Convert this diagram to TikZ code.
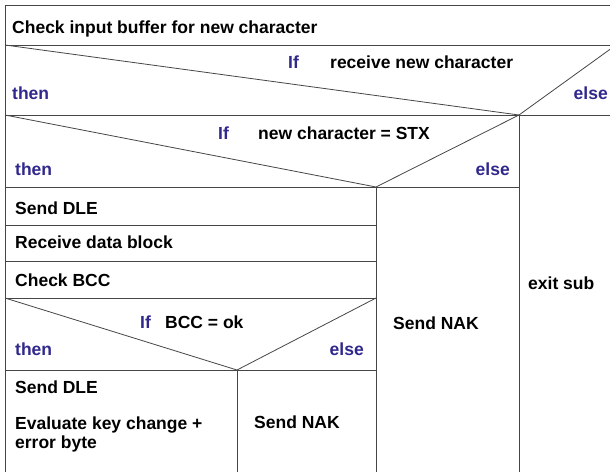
\documentclass[tikz,border=0pt]{standalone}
\usepackage{fontspec}
\setmainfont{Liberation Sans}
\definecolor{kwblue}{RGB}{48,40,140}
\definecolor{linegray}{RGB}{70,70,70}
\begin{document}
\begin{tikzpicture}[x=1pt,y=-1pt,
  ln/.style={draw=linegray,line width=0.8pt},
  txt/.style={anchor=base west,inner sep=0pt,font=\bfseries\fontsize{17.5}{20}\selectfont,text=black},
  kw/.style={txt,text=kwblue},
  kwr/.style={kw,anchor=base east}]
\useasboundingbox (0,0) rectangle (610,472);
\clip (0,0) rectangle (610,472);
\fill[white] (0,0) rectangle (610,472);
% frame lines
\draw[ln] (5,472) -- (5,5) -- (616,5);
\draw[ln] (5,45) -- (616,45);
\draw[ln] (5,115) -- (616,115);
\draw[ln] (5,187) -- (519,187);
\draw[ln] (5,225) -- (376,225);
\draw[ln] (5,261) -- (376,261);
\draw[ln] (5,298) -- (376,298);
\draw[ln] (5,370) -- (376,370);
\draw[ln] (519,115) -- (519,472);
\draw[ln] (376,187) -- (376,472);
\draw[ln] (237,370) -- (237,472);
% decision diagonals
\draw[ln] (5,45) -- (519,115) -- (616,45);
\draw[ln] (5,115) -- (376,187) -- (519,115);
\draw[ln] (5,298) -- (237,370) -- (376,298);
% texts
\node[txt] (t1) at (12,33) {Check input buffer for new character};
\node[kw] (if1) at (288,68) {If};
\node[txt] (c1) at (330,68) {receive new character};
\node[kw] (then1) at (12,99) {then};
\node[kwr] (else1) at (608,99) {else};
\node[kw] (if2) at (218,139) {If};
\node[txt] (c2) at (258,139) {new character = STX};
\node[kw] (then2) at (15,175) {then};
\node[kwr] (else2) at (510,175) {else};
\node[txt] (s1) at (15,214) {Send DLE};
\node[txt] (s2) at (15,248) {Receive data block};
\node[txt] (s3) at (15,286) {Check BCC};
\node[kw] (if3) at (140,328) {If};
\node[txt] (c3) at (165,328) {BCC = ok};
\node[kw] (then3) at (15,355) {then};
\node[kwr] (else3) at (364,355) {else};
\node[txt] (s4) at (15,393) {Send DLE};
\node[txt] (s5) at (15,429) {Evaluate key change +};
\node[txt] (s6) at (15,448) {error byte};
\node[txt] (n1) at (254,428) {Send NAK};
\node[txt] (n2) at (393,329) {Send NAK};
\node[txt] (ex) at (528,289) {exit sub};
\end{tikzpicture}
\end{document}
